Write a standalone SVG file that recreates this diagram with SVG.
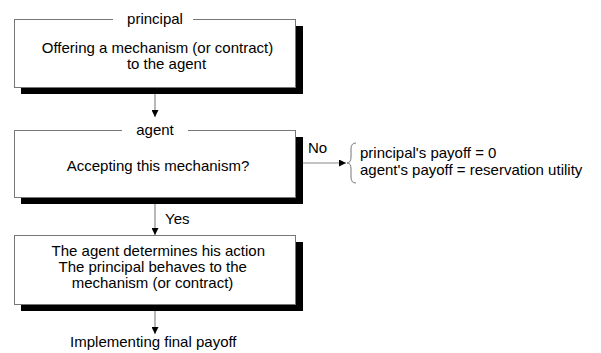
<svg xmlns="http://www.w3.org/2000/svg" width="601" height="353" viewBox="0 0 601 353">
<style>
text{font-family:"Liberation Sans",Arial,sans-serif;font-size:15px;fill:#000}
.m{text-anchor:middle}
.box{fill:#fff;stroke:#777;stroke-width:1}
.sh{fill:#000}
.conn{stroke:#888;stroke-width:1.2;fill:none}
</style>
<defs>
<marker id="ah" viewBox="0 0 8 8" refX="8" refY="4" markerWidth="7" markerHeight="7" markerUnits="userSpaceOnUse" orient="auto">
<path d="M0,0 L8,4 L0,8 z" fill="#000"/>
</marker>
</defs>
<rect width="601" height="353" fill="#fff"/>
<g id="connectors">
<line class="conn" x1="155" y1="94" x2="155" y2="117" marker-end="url(#ah)"/>
<line class="conn" x1="155" y1="204" x2="155" y2="235" marker-end="url(#ah)"/>
<line class="conn" x1="155" y1="311" x2="155" y2="334" marker-end="url(#ah)"/>
<line class="conn" x1="303" y1="163" x2="346" y2="163" marker-end="url(#ah)"/>
<text x="165" y="224">Yes</text>
<text x="308" y="153">No</text>
</g>
<g id="principal">
<rect class="sh" x="21" y="26" width="282" height="68"/>
<rect class="box" x="14.5" y="19.5" width="281" height="68"/>
<rect x="113" y="15" width="80" height="8" fill="#fff"/>
<text class="m" x="155" y="24">principal</text>
<text class="m" x="157.5" y="53">Offering a mechanism (or contract)</text>
<text class="m" x="166.5" y="69">to the agent</text>
</g>
<g id="agent">
<rect class="sh" x="21" y="137" width="282" height="67"/>
<rect class="box" x="14.5" y="130.5" width="281" height="67"/>
<rect x="122" y="126" width="66" height="8" fill="#fff"/>
<text class="m" x="155" y="135">agent</text>
<text class="m" x="158" y="171">Accepting this mechanism?</text>
</g>
<g id="action">
<rect class="sh" x="21" y="242" width="282" height="69"/>
<rect class="box" x="14.5" y="235.5" width="281" height="69"/>
<text class="m" x="158.3" y="256">The agent determines his action</text>
<text class="m" x="152.7" y="272">The principal behaves to the</text>
<text class="m" x="152.5" y="288">mechanism (or contract)</text>
</g>
<g id="final">
<text class="m" x="153.3" y="347">Implementing final payoff</text>
</g>
<g id="outcome">
<path d="M356,143 Q351,143 351,149 L351,157 Q351,163 347,163 Q351,163 351,169 L351,177 Q351,183 356,183" fill="none" stroke="#777" stroke-width="1"/>
<text x="360" y="158">principal's payoff = 0</text>
<text x="360" y="175">agent's payoff = reservation utility</text>
</g>
</svg>
